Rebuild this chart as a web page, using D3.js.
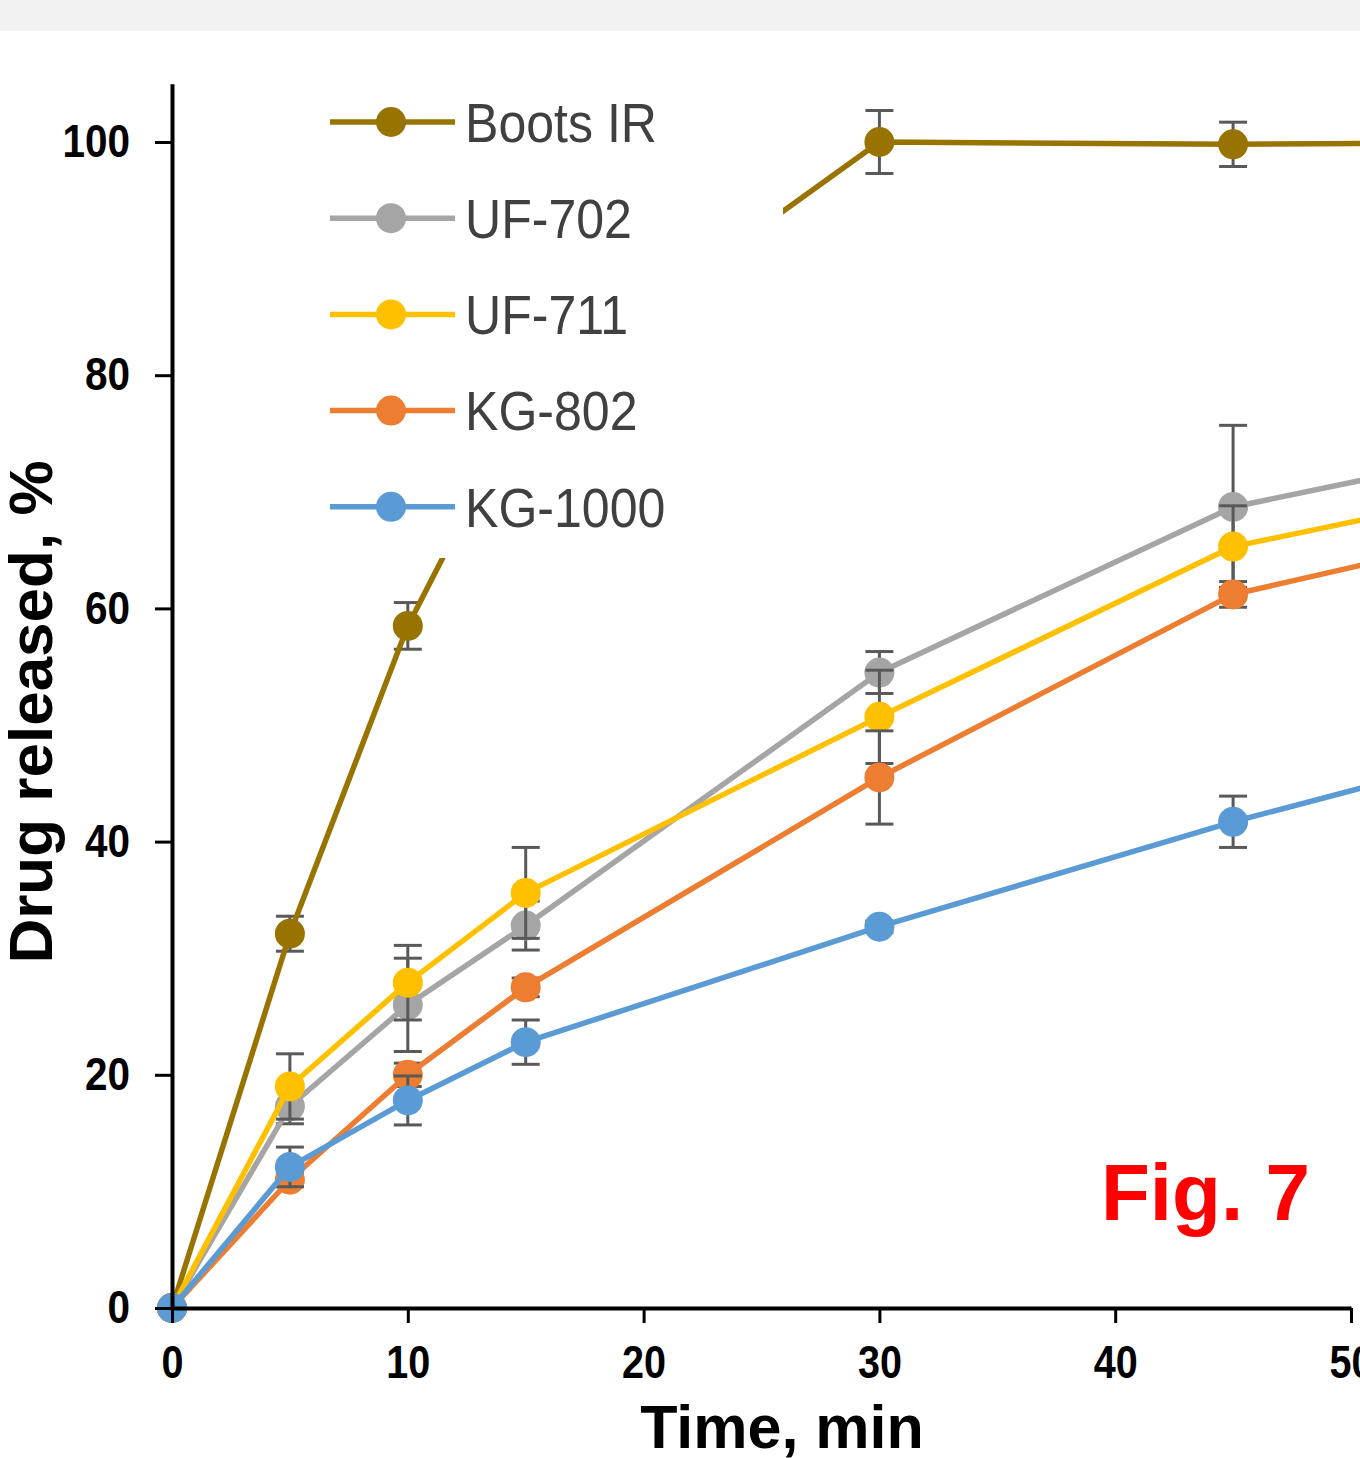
<!DOCTYPE html>
<html lang="en">
<head>
<meta charset="UTF-8">
<title>Drug release - Fig. 7</title>
<script src="https://d3js.org/d3.v7.min.js"></script>
<style>
  html, body { margin: 0; padding: 0; background: #fff; }
  svg { display: block; font-family: "Liberation Sans", Arial, sans-serif; }
</style>
</head>
<body>
<svg id="chart" width="1360" height="1458"></svg>
<script>
// sampling times (min)
var times = [0, 5, 10, 15, 30, 45, 60];

// % drug released
var seriesNames = ["Boots IR", "UF-702", "UF-711", "KG-802", "KG-1000"];
var bootsIR   = [0, 32.1, 58.5, 78.2, 100.0, 99.8, 100.0];
var uf702     = [0, 17.3, 26.0, 32.8, 54.5, 68.7, 75.0];
var uf711     = [0, 19.0, 27.9, 35.6, 50.7, 65.3, 71.6];
var kg802     = [0, 11.0, 20.0, 27.5, 45.5, 61.2, 68.1];
var kg1000    = [0, 12.1, 17.8, 22.8, 32.7, 41.7, 49.7];

// standard deviations (error bars)
var bootsIRErr = [0, 1.5, 2.0, 2.0, 2.7, 1.9, 0];
var uf702Err   = [0, 1.5, 4.0, 2.1, 1.8, 7.0, 0];
var uf711Err   = [0, 2.8, 3.2, 3.9, 4.0, 3.5, 0];
var kg802Err   = [0, 0.6, 1.0, 0.8, 4.0, 1.1, 0];
var kg1000Err  = [0, 1.7, 2.1, 1.9, 0.5, 2.2, 0];

var xTicks = [0, 10, 20, 30, 40, 50];
var yTicks = [0, 20, 40, 60, 80, 100];

var colors = ["#997300", "#a5a5a5", "#ffc000", "#ed7d31", "#5b9bd5"];
var allValues = [bootsIR, uf702, uf711, kg802, kg1000];
var allErrs = [bootsIRErr, uf702Err, uf711Err, kg802Err, kg1000Err];

var svg = d3.select("#chart");

// light grey strip at the top of the picture
svg.append("rect")
    .attr("x", 0).attr("y", 0)
    .attr("width", 1360).attr("height", 31)
    .attr("fill", "#f2f2f2");

var x = d3.scaleLinear().domain([0, 50]).range([172, 1351]);
var y = d3.scaleLinear().domain([0, 105]).range([1308, 83.7]);

var series = seriesNames.map(function(name, i) {
    return {
        name: name,
        color: colors[i],
        points: times.map(function(t, j) {
            return { t: t, v: allValues[i][j], e: allErrs[i][j] };
        })
    };
});

var line = d3.line()
    .x(function(d) { return x(d.t); })
    .y(function(d) { return y(d.v); });

var plot = svg.append("g").attr("class", "plot");

series.forEach(function(s) {
    var g = plot.append("g");

    // error bars
    var eb = g.selectAll(".err")
        .data(s.points.filter(function(d) { return d.e > 0; }))
        .enter().append("g")
        .attr("class", "err")
        .attr("stroke", "#595959")
        .attr("stroke-width", 3);
    eb.append("line")
        .attr("x1", function(d) { return x(d.t); })
        .attr("x2", function(d) { return x(d.t); })
        .attr("y1", function(d) { return y(d.v - d.e); })
        .attr("y2", function(d) { return y(d.v + d.e); });
    eb.append("line")
        .attr("x1", function(d) { return x(d.t) - 14; })
        .attr("x2", function(d) { return x(d.t) + 14; })
        .attr("y1", function(d) { return y(d.v + d.e); })
        .attr("y2", function(d) { return y(d.v + d.e); });
    eb.append("line")
        .attr("x1", function(d) { return x(d.t) - 14; })
        .attr("x2", function(d) { return x(d.t) + 14; })
        .attr("y1", function(d) { return y(d.v - d.e); })
        .attr("y2", function(d) { return y(d.v - d.e); });

    g.append("path")
        .datum(s.points)
        .attr("fill", "none")
        .attr("stroke", s.color)
        .attr("stroke-width", 5.5)
        .attr("stroke-linejoin", "round")
        .attr("d", line);

    g.selectAll("circle")
        .data(s.points)
        .enter().append("circle")
        .attr("cx", function(d) { return x(d.t); })
        .attr("cy", function(d) { return y(d.v); })
        .attr("r", 15)
        .attr("fill", s.color);
});

// axes
var xAxis = svg.append("g")
    .attr("transform", "translate(0,1308)")
    .call(d3.axisBottom(x).tickValues(xTicks).tickSize(15).tickPadding(22).tickSizeOuter(0));
var yAxis = svg.append("g")
    .attr("transform", "translate(172,0)")
    .call(d3.axisLeft(y).tickValues(yTicks).tickSize(17).tickSizeOuter(0));

[xAxis, yAxis].forEach(function(a) {
    a.select(".domain").attr("stroke", "#000").attr("stroke-width", 4);
    a.selectAll(".tick line").attr("stroke", "#000").attr("stroke-width", 3);
    a.selectAll(".tick text")
        .attr("fill", "#000")
        .attr("font-size", 46)
        .attr("font-weight", "bold")
        .attr("font-family", "Liberation Sans, Arial, sans-serif");
});
xAxis.selectAll(".tick text").attr("transform", "scale(0.86,1)");
yAxis.selectAll(".tick text")
    .attr("transform", "scale(0.88,1)")
    .attr("x", -42 / 0.88);

// axis titles
svg.append("text")
    .attr("x", 782).attr("y", 1448)
    .attr("text-anchor", "middle")
    .attr("font-size", 61)
    .attr("font-weight", "bold")
    .attr("fill", "#000")
    .text("Time, min");

svg.append("text")
    .attr("transform", "translate(52,712) rotate(-90)")
    .attr("text-anchor", "middle")
    .attr("font-size", 62)
    .attr("font-weight", "bold")
    .attr("fill", "#000")
    .text("Drug released, %");

// legend (white box hides part of the Boots IR line)
var legend = svg.append("g").attr("class", "legend");
legend.append("rect")
    .attr("x", 300).attr("y", 86)
    .attr("width", 483).attr("height", 472)
    .attr("fill", "#fff");

var rows = legend.selectAll(".row")
    .data(series)
    .enter().append("g")
    .attr("class", "row")
    .attr("transform", function(d, i) { return "translate(0," + (122 + i * 96.2) + ")"; });
rows.append("line")
    .attr("x1", 330).attr("x2", 455)
    .attr("stroke", function(d) { return d.color; })
    .attr("stroke-width", 5.5);
rows.append("circle")
    .attr("cx", 391).attr("r", 15)
    .attr("fill", function(d) { return d.color; });
rows.append("text")
    .attr("transform", "translate(465,0) scale(0.91,1)")
    .attr("dy", "0.36em")
    .attr("font-size", 55)
    .attr("fill", "#404040")
    .text(function(d) { return d.name; });

svg.append("text")
    .attr("x", 1101).attr("y", 1220)
    .attr("font-size", 80)
    .attr("font-weight", "bold")
    .attr("fill", "#ff0000")
    .text("Fig. 7");
</script>
</body>
</html>
